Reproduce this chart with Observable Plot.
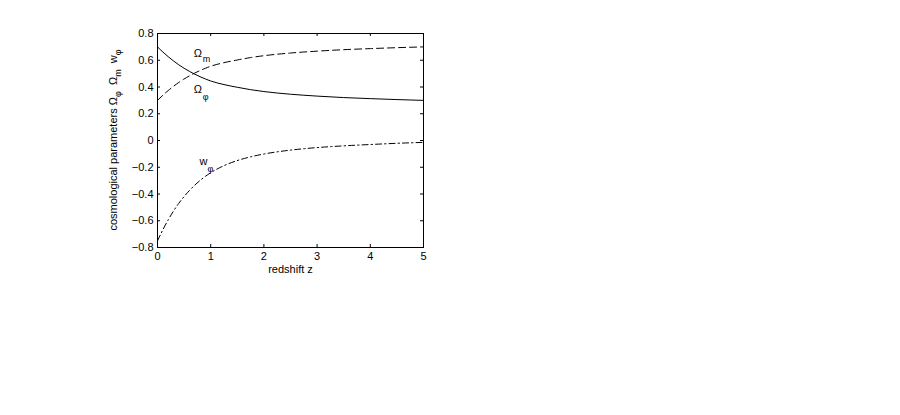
<!DOCTYPE html>
<html>
<head>
<meta charset="utf-8">
<script src="https://cdn.jsdelivr.net/npm/d3@7"></script>
<script src="https://cdn.jsdelivr.net/npm/@observablehq/plot@0.6"></script>
<style>
  html, body { margin: 0; padding: 0; background: #fff; }
  #chart svg { display: block; }
</style>
</head>
<body>
<div id="chart"></div>
<script>
// ---- data ----
const redshift = [0, 0.1, 0.2, 0.3, 0.4, 0.5, 0.6, 0.7, 0.8, 0.9, 1, 1.25, 1.5, 1.75, 2, 2.5, 3, 3.5, 4, 4.5, 5];
const omegaPhi = [0.70, 0.662, 0.627, 0.595, 0.566, 0.540, 0.517, 0.496, 0.477, 0.460, 0.445, 0.418, 0.398, 0.380, 0.366, 0.346, 0.332, 0.321, 0.313, 0.306, 0.300];
const omegaM   = [0.30, 0.338, 0.373, 0.405, 0.434, 0.460, 0.483, 0.504, 0.523, 0.540, 0.555, 0.582, 0.602, 0.620, 0.634, 0.654, 0.668, 0.679, 0.687, 0.694, 0.700];
const wPhi     = [-0.75, -0.668, -0.594, -0.528, -0.470, -0.419, -0.374, -0.334, -0.299, -0.268, -0.241, -0.188, -0.150, -0.122, -0.101, -0.072, -0.053, -0.040, -0.030, -0.021, -0.014];

const xTicks = [0, 1, 2, 3, 4, 5];
const yTicks = [-0.8, -0.6, -0.4, -0.2, 0, 0.2, 0.4, 0.6, 0.8];
const yTickLabels = ["−0.8", "−0.6", "−0.4", "−0.2", "0", "0.2", "0.4", "0.6", "0.8"];

const xLabel = "redshift z";
const yLabelParts = [
  {t: "cosmological parameters Ω", sub: false},
  {t: "φ", sub: true},
  {t: "  Ω", sub: false},
  {t: "m", sub: true},
  {t: "  w", sub: false},
  {t: "φ", sub: true}
];

// curve annotations: main symbol and subscript
const labelOmegaM   = [{z: 0.68, v: 0.653, main: "Ω", sub: "m"}];
const labelOmegaPhi = [{z: 0.68, v: 0.384, main: "Ω", sub: "φ"}];
const labelWPhi     = [{z: 0.79, v: -0.155, main: "w", sub: "φ"}];

const rows = (ys) => redshift.map((z, i) => ({z, v: ys[i]}));

const W = 900, H = 415;
const mL = 157, mR = 477, mT = 33, mB = 168;
const innerW = W - mL - mR, innerH = H - mT - mB;
const tickLen = 3;

const font = "'Liberation Sans', Arial, Helvetica, sans-serif";
const ink = "#000";

const mainText = (data) => Plot.text(data, {x: "z", y: "v", text: "main", textAnchor: "start", fontSize: 11, fill: ink});
const subText = (data, dx, dy) => Plot.text(data, {x: "z", y: "v", text: "sub", textAnchor: "start", fontSize: 9, fill: ink, dx, dy});

const chart = Plot.plot({
  width: W,
  height: H,
  marginLeft: mL,
  marginRight: mR,
  marginTop: mT,
  marginBottom: mB,
  style: {fontFamily: font, fontSize: "11px", color: ink, background: "#fff"},
  x: {domain: [0, 5]},
  y: {domain: [-0.8, 0.8]},
  marks: [
    Plot.axisX(xTicks, {tickSize: 0, tickPadding: 5, label: null, fontSize: 11, tickFormat: d => String(d)}),
    Plot.axisY(yTicks, {tickSize: 0, tickPadding: 4, label: null, fontSize: 11,
      tickFormat: d => yTickLabels[yTicks.indexOf(d)]}),
    // inward ticks on all four sides
    Plot.tickX(xTicks, {x: d => d, insetTop: innerH - tickLen, stroke: ink}),
    Plot.tickX(xTicks, {x: d => d, insetBottom: innerH - tickLen, stroke: ink}),
    Plot.tickY(yTicks, {y: d => d, insetRight: innerW - tickLen, stroke: ink}),
    Plot.tickY(yTicks, {y: d => d, insetLeft: innerW - tickLen, stroke: ink}),
    // curves
    Plot.line(rows(omegaPhi), {x: "z", y: "v", stroke: ink, strokeWidth: 1, curve: "monotone-x"}),
    Plot.line(rows(omegaM), {x: "z", y: "v", stroke: ink, strokeWidth: 1, strokeDasharray: "7,4", curve: "monotone-x"}),
    Plot.line(rows(wPhi), {x: "z", y: "v", stroke: ink, strokeWidth: 1, strokeDasharray: "6,3,1.5,3", curve: "monotone-x"}),
    // curve labels
    mainText(labelOmegaM),
    subText(labelOmegaM, 9, 6),
    mainText(labelOmegaPhi),
    subText(labelOmegaPhi, 9, 8),
    mainText(labelWPhi),
    subText(labelWPhi, 8, 8),
    // x label
    Plot.text([xLabel], {frameAnchor: "bottom", dy: 25.5, fontSize: 11, fill: ink}),
    Plot.frame({stroke: ink, strokeWidth: 1})
  ]
});

document.getElementById("chart").appendChild(chart);

// rotated y-axis label with subscripts
const svg = d3.select(chart);
const yLab = svg.append("text")
  .attr("transform", `translate(117,${mT + innerH / 2}) rotate(-90)`)
  .attr("text-anchor", "middle")
  .attr("font-family", font)
  .attr("font-size", 11)
  .attr("fill", ink)
  .style("white-space", "pre");
let shifted = false;
for (const p of yLabelParts) {
  const ts = yLab.append("tspan").text(p.t);
  if (p.sub) { ts.attr("font-size", 9).attr("dy", 3.5); shifted = true; }
  else if (shifted) { ts.attr("dy", -3.5); shifted = false; }
}
</script>
</body>
</html>
